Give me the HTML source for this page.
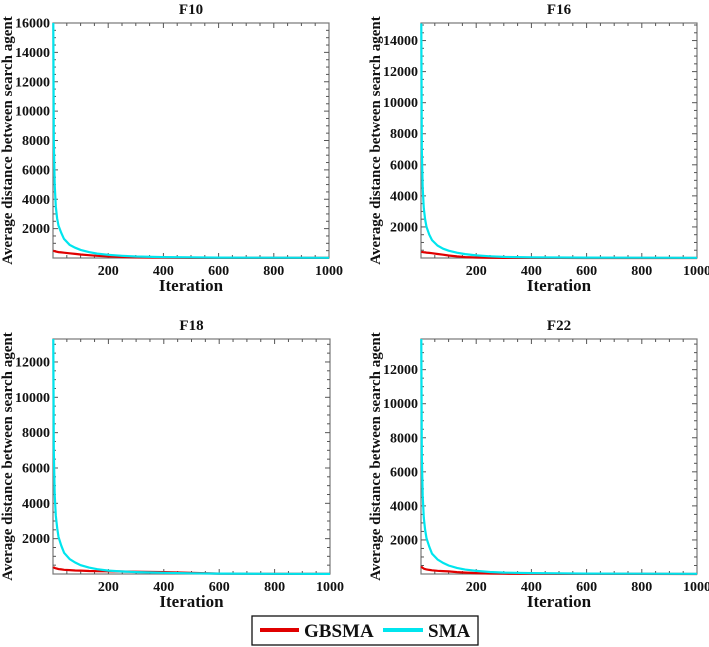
<!DOCTYPE html>
<html><head><meta charset="utf-8">
<style>
html,body{margin:0;padding:0;background:#fff;}
svg{display:block;}
svg text{font-family:"Liberation Serif","DejaVu Serif",serif;font-weight:bold;}
</style></head>
<body>
<svg id="fig" width="709" height="647" viewBox="0 0 709 647"></svg>
<script>
const iterations = [1,3,6,10,15,20,30,40,60,80,100,130,160,200,250,300,400,500,600,800,1000];
const smaF10 = [16000,8000,5000,3500,2700,2200,1700,1300,900,700,550,400,300,220,150,100,60,40,30,20,15];
const gbF10 = [500,480,460,440,420,400,380,360,320,280,240,190,150,110,70,40,20,10,8,5,4];
const smaF16 = [15100,7000,4500,3200,2500,2000,1500,1150,800,600,470,340,250,170,110,70,40,30,25,20,15];
const gbF16 = [400,390,380,370,360,350,330,310,260,210,160,100,60,30,15,8,5,4,3,2,2];
const smaF18 = [13300,7000,4500,3300,2600,2100,1600,1200,850,650,500,360,270,190,140,110,70,40,20,10,8];
const gbF18 = [400,370,340,320,300,280,260,240,220,200,190,170,160,150,140,130,110,60,20,8,5];
const smaF22 = [13800,7000,4600,3300,2600,2100,1600,1200,850,650,500,360,260,180,120,80,50,35,25,18,12];
const gbF22 = [450,400,360,320,290,270,240,220,190,170,150,110,80,50,30,20,10,6,4,3,2];
const xTicks = [200,400,600,800,1000];
const panels = [
 {title:"F10", sma:smaF10, gb:gbF10, ymax:16000, yTicks:[2000,4000,6000,8000,10000,12000,14000,16000], L:53,R:329,T:23,B:258},
 {title:"F16", sma:smaF16, gb:gbF16, ymax:15130, yTicks:[2000,4000,6000,8000,10000,12000,14000], L:421,R:697,T:23,B:258},
 {title:"F18", sma:smaF18, gb:gbF18, ymax:13300, yTicks:[2000,4000,6000,8000,10000,12000], L:53,R:330,T:339,B:574},
 {title:"F22", sma:smaF22, gb:gbF22, ymax:13800, yTicks:[2000,4000,6000,8000,10000,12000], L:421,R:697,T:339,B:574}
];
const NS="http://www.w3.org/2000/svg";
const svg=document.getElementById('fig');
const FF='"Liberation Serif", "DejaVu Serif", serif';
function mk(tag,attrs,parent){const e=document.createElementNS(NS,tag);for(const k in attrs)e.setAttribute(k,attrs[k]);if(tag==='text'){e.setAttribute('font-family',FF);e.setAttribute('font-weight','bold');}(parent||svg).appendChild(e);return e;}
panels.forEach((p,pi)=>{
  const g=mk('g',{});
  
  
  const xs=v=>p.L+(v-0)/1000*(p.R-p.L);
  const ys=v=>p.B-v/p.ymax*(p.B-p.T);
  const frame=mk('rect',{x:p.L,y:p.T,width:p.R-p.L,height:p.B-p.T,fill:'#fff',stroke:'#777','stroke-width':1.2},g);
  
  
  for(let v=50;v<1000;v+=50){
    const x=xs(v);
    mk('line',{x1:x,x2:x,y1:p.B,y2:p.B-(v%200==0?5:3),stroke:'#555','stroke-width':1},g);
    mk('line',{x1:x,x2:x,y1:p.T,y2:p.T+(v%200==0?5:3),stroke:'#555','stroke-width':1},g);
  }
  for(let v=500;v<p.ymax;v+=500){
    const y=ys(v);const maj=v%2000==0;
    mk('line',{x1:p.L,x2:p.L+(maj?5:3),y1:y,y2:y,stroke:'#555','stroke-width':1},g);
    mk('line',{x1:p.R,x2:p.R-(maj?5:3),y1:y,y2:y,stroke:'#555','stroke-width':1},g);
  }
  xTicks.forEach(v=>{
    const t=mk('text',{x:xs(v),y:p.B+17,'text-anchor':'middle','font-size':14,fill:'#111'},g);
    t.textContent=v;
    
    
  });
  p.yTicks.forEach(v=>{
    const t=mk('text',{x:p.L-3,y:ys(v)+4.5,'text-anchor':'end','font-size':14,fill:'#111'},g);
    t.textContent=v;
    
    
  });
  const tt=mk('text',{x:(p.L+p.R)/2,y:p.T-9,'text-anchor':'middle','font-size':15,fill:'#111'},g);
  tt.textContent=p.title;
  
  
  const xl=mk('text',{x:(p.L+p.R)/2,y:p.B+33,'text-anchor':'middle','font-size':17,fill:'#111'},g);
  xl.textContent='Iteration';
  
  
  const yc=(p.T+p.B)/2, yx=p.L-41;
  const yl=mk('text',{x:yx,y:yc,'text-anchor':'middle','font-size':15,fill:'#111',transform:`rotate(-90 ${yx} ${yc})`},g);
  yl.textContent='Average distance between search agent';
  
  
  const pts=arr=>arr.map((v,i)=>xs(iterations[i]).toFixed(1)+','+ys(v).toFixed(1)).join(' ');
  const lg=mk('polyline',{points:pts(p.gb),fill:'none',stroke:'#e00000','stroke-width':2.2},g);
  
  
  const ls=mk('polyline',{points:pts(p.sma),fill:'none',stroke:'#00e5ee','stroke-width':2.2},g);
  
  
});
const leg=mk('g',{});


mk('rect',{x:252,y:616,width:226,height:29,fill:'#fff',stroke:'#111','stroke-width':1.3},leg);
const e1=mk('g',{},leg);


mk('line',{x1:260,x2:299,y1:630,y2:630,stroke:'#e00000','stroke-width':4},e1);
const t1=mk('text',{x:304,y:637,'font-size':19,fill:'#111'},e1);t1.textContent='GBSMA';
const e2=mk('g',{},leg);


mk('line',{x1:383,x2:423,y1:630,y2:630,stroke:'#00e5ee','stroke-width':4},e2);
const t2=mk('text',{x:428,y:637,'font-size':19,fill:'#111'},e2);t2.textContent='SMA';
</script>
</body></html>
